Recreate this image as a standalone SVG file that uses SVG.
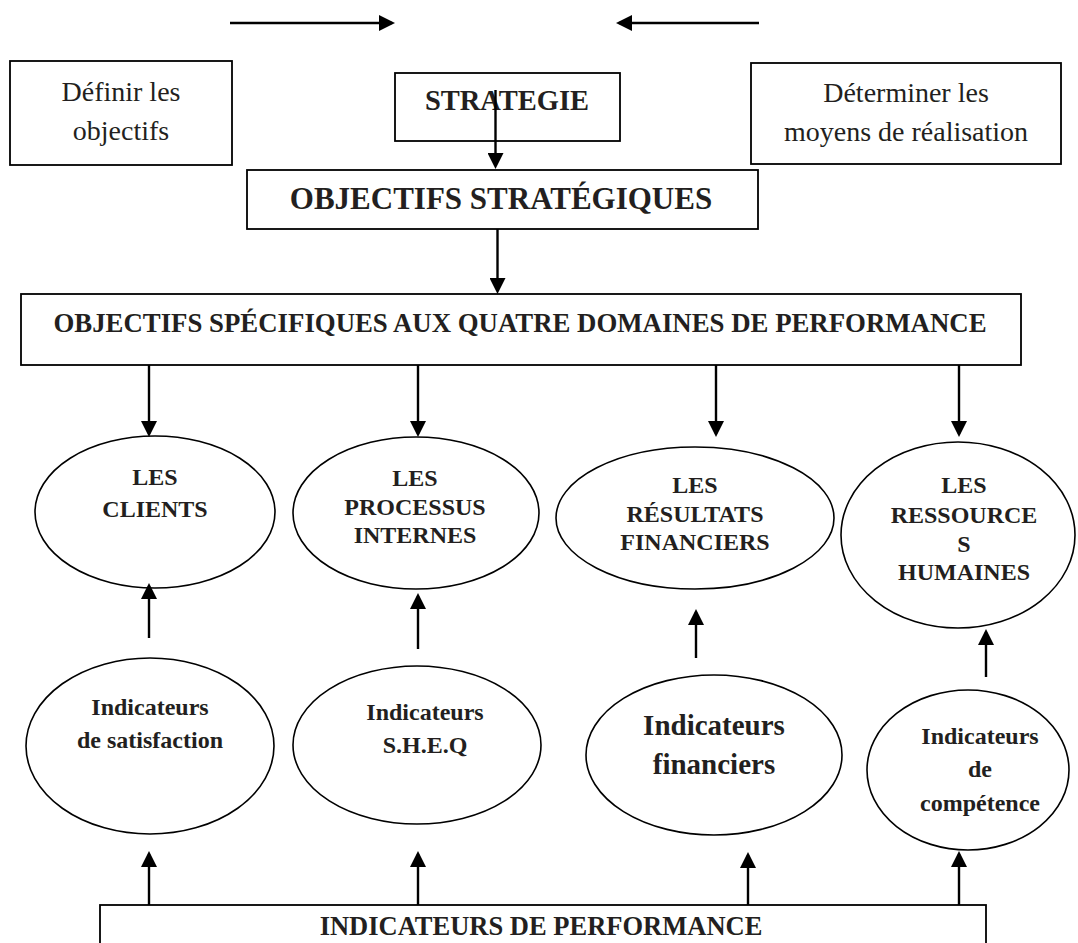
<svg xmlns="http://www.w3.org/2000/svg" width="1078" height="943" viewBox="0 0 1078 943">
  <defs>
    <marker id="head" viewBox="0 0 16 16" markerWidth="16" markerHeight="16" refX="13" refY="8" orient="auto" markerUnits="userSpaceOnUse">
      <path d="M0,0 L16,8 L0,16 z" fill="#000"/>
    </marker>
    <style>
      .box { fill: #fff; stroke: #000; stroke-width: 1.8; }
      .oval { fill: #fff; stroke: #000; stroke-width: 1.6; }
      .link { stroke: #000; stroke-width: 2.4; fill: none; marker-end: url(#head); }
      .t { font-family: "Liberation Serif", "Times New Roman", serif; fill: #231f20; text-anchor: middle; }
      .b { font-weight: bold; }
    </style>
  </defs>
  <rect width="1078" height="943" fill="#fff"/>

  <!-- top row -->
  <g id="definir">
    <rect class="box" x="10" y="61" width="222" height="104"/>
    <text class="t" x="121" y="101" font-size="28">Définir les</text>
    <text class="t" x="121" y="140" font-size="28">objectifs</text>
  </g>
  <g id="strategie">
    <rect class="box" x="395" y="73" width="225" height="68"/>
    <text class="t b" x="507" y="110" font-size="28.5">STRATEGIE</text>
  </g>
  <g id="determiner">
    <rect class="box" x="751" y="63" width="310" height="101"/>
    <text class="t" x="906" y="102" font-size="28">Déterminer les</text>
    <text class="t" x="906" y="141" font-size="28">moyens de réalisation</text>
  </g>

  <g id="objectifs-strategiques">
    <rect class="box" x="247" y="170" width="511" height="59"/>
    <text class="t b" x="501" y="209" font-size="31">OBJECTIFS STRATÉGIQUES</text>
  </g>

  <g id="objectifs-specifiques">
    <rect class="box" x="21" y="294" width="1000" height="71"/>
    <text class="t b" x="520" y="332" font-size="26.8">OBJECTIFS SPÉCIFIQUES AUX QUATRE DOMAINES DE PERFORMANCE</text>
  </g>

  <!-- four performance domains -->
  <g id="clients">
    <ellipse class="oval" cx="155" cy="512" rx="120" ry="76"/>
    <text class="t b" x="155" y="485" font-size="24">LES</text>
    <text class="t b" x="155" y="517" font-size="24">CLIENTS</text>
  </g>
  <g id="processus">
    <ellipse class="oval" cx="416" cy="513" rx="123" ry="76"/>
    <text class="t b" x="415" y="486" font-size="24">LES</text>
    <text class="t b" x="415" y="515" font-size="24">PROCESSUS</text>
    <text class="t b" x="415" y="543" font-size="24">INTERNES</text>
  </g>
  <g id="resultats">
    <ellipse class="oval" cx="695" cy="518" rx="139" ry="71"/>
    <text class="t b" x="695" y="493" font-size="24">LES</text>
    <text class="t b" x="695" y="522" font-size="24">RÉSULTATS</text>
    <text class="t b" x="695" y="550" font-size="24">FINANCIERS</text>
  </g>
  <g id="ressources">
    <ellipse class="oval" cx="958" cy="535" rx="117" ry="93"/>
    <text class="t b" x="964" y="493" font-size="24">LES</text>
    <text class="t b" x="964" y="523" font-size="24">RESSOURCE</text>
    <text class="t b" x="964" y="552" font-size="24">S</text>
    <text class="t b" x="964" y="580" font-size="24">HUMAINES</text>
  </g>

  <!-- indicators -->
  <g id="ind-satisfaction">
    <ellipse class="oval" cx="150" cy="746" rx="124" ry="88"/>
    <text class="t b" x="150" y="715" font-size="24">Indicateurs</text>
    <text class="t b" x="150" y="748" font-size="24">de satisfaction</text>
  </g>
  <g id="ind-sheq">
    <ellipse class="oval" cx="417" cy="745" rx="124" ry="79"/>
    <text class="t b" x="425" y="720" font-size="24">Indicateurs</text>
    <text class="t b" x="425" y="753" font-size="24">S.H.E.Q</text>
  </g>
  <g id="ind-financiers">
    <ellipse class="oval" cx="714" cy="755" rx="128" ry="80"/>
    <text class="t b" x="714" y="735" font-size="29">Indicateurs</text>
    <text class="t b" x="714" y="774" font-size="29">financiers</text>
  </g>
  <g id="ind-competence">
    <ellipse class="oval" cx="968" cy="770" rx="101" ry="80"/>
    <text class="t b" x="980" y="744" font-size="24">Indicateurs</text>
    <text class="t b" x="980" y="777" font-size="24">de</text>
    <text class="t b" x="980" y="811" font-size="24">compétence</text>
  </g>

  <g id="indicateurs-performance">
    <rect class="box" x="100" y="905" width="886" height="60"/>
    <text class="t b" x="541" y="935" font-size="26.5">INDICATEURS DE PERFORMANCE</text>
  </g>

  <!-- connectors -->
  <g id="connectors">
    <line class="link" x1="230" y1="23" x2="392" y2="23"/>
    <line class="link" x1="759" y1="23" x2="619" y2="23"/>
    <line class="link" x1="495.5" y1="90" x2="495.5" y2="166"/>
    <line class="link" x1="497.5" y1="229" x2="497.5" y2="291"/>

    <line class="link" x1="149" y1="365" x2="149" y2="434"/>
    <line class="link" x1="418" y1="365" x2="418" y2="434"/>
    <line class="link" x1="716" y1="365" x2="716" y2="434"/>
    <line class="link" x1="959" y1="365" x2="959" y2="434"/>

    <line class="link" x1="149" y1="638" x2="149" y2="586"/>
    <line class="link" x1="418" y1="649" x2="418" y2="596"/>
    <line class="link" x1="696" y1="658" x2="696" y2="612"/>
    <line class="link" x1="986" y1="677" x2="986" y2="632"/>

    <line class="link" x1="149" y1="905" x2="149" y2="854"/>
    <line class="link" x1="418" y1="905" x2="418" y2="854"/>
    <line class="link" x1="748" y1="905" x2="748" y2="855"/>
    <line class="link" x1="959" y1="905" x2="959" y2="854"/>
  </g>
</svg>
